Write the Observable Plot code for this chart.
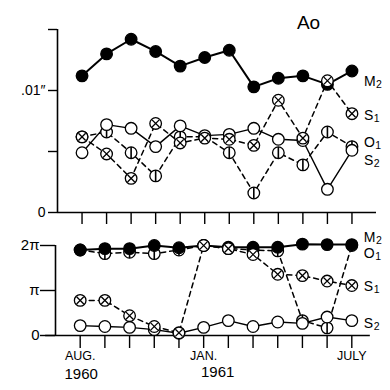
<!DOCTYPE html>
<html>
<head>
<meta charset="utf-8">
<script src="https://cdn.jsdelivr.net/npm/d3@7"></script>
<script src="https://cdn.jsdelivr.net/npm/@observablehq/plot@0.6"></script>
<style>
  html, body { margin: 0; padding: 0; background: white; }
  #chart { width: 390px; height: 390px; overflow: hidden; }
  #chart svg { display: block; overflow: visible; }
</style>
</head>
<body>
<div id="chart"></div>
<script>
// ---- data ----
const months = ["AUG.","SEP.","OCT.","NOV.","DEC.","JAN.","FEB.","MAR.","APR.","MAY","JUNE","JULY"];
const monthTickLabels = ["AUG.","","","","","JAN.","","","","","","JULY"];
const years = ["1960","1961"];
const yearMonths = ["AUG.","JAN."];
const series = ["M2","S1","O1","S2"];
const seriesLetters = ["M","S","O","S"];
const seriesSubs = ["2","1","1","2"];
const title = "Ao";

// amplitude (inches)
const ampM2 = [0.0112,0.0130,0.0142,0.0132,0.0120,0.0127,0.0133,0.0103,0.0110,0.0112,0.0105,0.0116];
const ampS1 = [0.0062,0.0048,0.0028,0.0073,0.0057,0.0061,0.0060,0.0055,0.0092,0.0061,0.0108,0.0081];
const ampO1 = [0.0062,0.0066,0.0049,0.0030,0.0062,0.0062,0.0049,0.0016,0.0049,0.0039,0.0066,0.0054];
const ampS2 = [0.0049,0.0072,0.0069,0.0054,0.0071,0.0063,0.0064,0.0069,0.0060,0.0059,0.0019,0.0051];
const ampTicks = [0,0.005,0.01,0.015];
const ampTickLabels = ["0","",".01″",""];

// phase (units of pi)
const phM2 = [1.90,1.93,1.93,2.00,1.95,2.00,1.96,1.96,1.96,2.03,2.02,2.02];
const phS1 = [0.78,0.78,0.44,0.20,0.06,2.00,1.93,1.80,1.36,1.33,1.21,1.11];
const phO1 = [1.90,1.82,1.85,1.82,1.90,2.00,1.93,1.90,1.88,0.33,0.17,2.00];
const phS2 = [0.22,0.20,0.18,0.13,0.05,0.18,0.33,0.20,0.30,0.27,0.41,0.33];
const phaseTicks = [0,1,2];
const phaseTickLabels = ["0","π","2π"];

// ---- build tables ----
const ampValues = {M2: ampM2, S1: ampS1, O1: ampO1, S2: ampS2};
const phValues = {M2: phM2, S1: phS1, O1: phO1, S2: phS2};
const rows = (vals) => series.flatMap(s => vals[s].map((v, i) => ({series: s, i, v})));
const ampRows = rows(ampValues);
const phRows = rows(phValues);
const monthIdx = months.map((m, i) => i);

// ---- styles ----
const font = "'Liberation Sans', Arial, sans-serif";
const labelSize = 14, subSize = 10.5;
const measureCtx = document.createElement("canvas").getContext("2d");
measureCtx.font = `${labelSize}px 'Liberation Sans', Arial, sans-serif`;
const letterWidth = (t) => measureCtx.measureText(t).width;

const lineStyle = {
  M2: {strokeWidth: 2, strokeDasharray: null},
  S1: {strokeWidth: 1.5, strokeDasharray: "5,4"},
  O1: {strokeWidth: 1.5, strokeDasharray: "5,4"},
  S2: {strokeWidth: 1.4, strokeDasharray: null}
};
const vbar = {draw(ctx, size) { const r = Math.sqrt(size / Math.PI); ctx.moveTo(0, -r); ctx.lineTo(0, r); }};
const cross = {draw(ctx, size) { const r = Math.sqrt(size / Math.PI) * 0.62; ctx.moveTo(-r, -r); ctx.lineTo(r, r); ctx.moveTo(r, -r); ctx.lineTo(-r, r); }};
const R = 5.8;

function seriesMarks(data) {
  const marks = [];
  for (const s of series) {
    marks.push(Plot.line(data.filter(d => d.series === s), {
      x: "i", y: "v", stroke: "black", ...lineStyle[s]
    }));
  }
  for (const s of ["O1","S2","M2","S1"]) {
    const d = data.filter(r => r.series === s);
    marks.push(Plot.dot(d, {x: "i", y: "v", r: R, fill: s === "M2" ? "black" : "white", stroke: "black", strokeWidth: 1.3}));
    if (s === "O1") marks.push(Plot.dot(d, {x: "i", y: "v", r: R, symbol: vbar, fill: "none", stroke: "black", strokeWidth: 1.6}));
    if (s === "S1") marks.push(Plot.dot(d, {x: "i", y: "v", r: R, symbol: cross, fill: "none", stroke: "black", strokeWidth: 1.3}));
  }
  return marks;
}

function endLabels(data, dys) {
  const marks = [];
  series.forEach((s, k) => {
    const d = data.filter(r => r.series === s);
    const last = d[d.length - 1];
    marks.push(Plot.text([last], {
      x: "i", y: "v", text: () => seriesLetters[k], dx: 12, dy: dys[s],
      textAnchor: "start", fontSize: labelSize, fontFamily: font, fill: "black"
    }));
    marks.push(Plot.text([last], {
      x: "i", y: "v", text: () => seriesSubs[k], dx: 12.5 + letterWidth(seriesLetters[k]), dy: dys[s] + 3,
      textAnchor: "start", fontSize: subSize, fontFamily: font, fill: "black"
    }));
  });
  return marks;
}

// ---- top panel: amplitude ----
const ampPlot = Plot.plot({
  width: 390, height: 224,
  marginTop: 29, marginBottom: 12, marginLeft: 57, marginRight: 14,
  x: {domain: [-1, 12], axis: null},
  y: {domain: [0, 0.015], axis: null},
  style: {fontFamily: font, background: "white", overflow: "visible"},
  marks: [
    Plot.ruleY([0], {x1: -1, x2: 12, stroke: "black", strokeWidth: 1.6}),
    Plot.ruleX([-1], {y1: 0, y2: 0.015, stroke: "black", strokeWidth: 1.6}),
    Plot.axisY({ticks: ampTicks, label: null, tickSize: 9, tickPadding: 3, tickFormat: (d, k) => ampTickLabels[k], fontSize: 14, stroke: "black", strokeWidth: 1.4}),
    Plot.axisX({ticks: monthIdx, label: null, tickSize: 12, tickFormat: () => "", stroke: "black", strokeWidth: 1.4}),
    ...seriesMarks(ampRows),
    ...endLabels(ampRows, {M2: 11, S1: 2, O1: -4, S2: 10}),
    Plot.text([title], {frameAnchor: "top-right", textAnchor: "middle", dx: -68, dy: -14, fontSize: 19, fontFamily: font})
  ]
});

// ---- bottom panel: phase ----
const phasePlot = Plot.plot({
  width: 390, height: 166,
  marginTop: 21, marginBottom: 55, marginLeft: 55, marginRight: 14,
  x: {domain: [-1, 12], axis: null},
  y: {domain: [0, 2], axis: null},
  style: {fontFamily: font, background: "white", overflow: "visible"},
  marks: [
    Plot.ruleY([0], {x1: -1.4, x2: 11.75, stroke: "black", strokeWidth: 1.6}),
    Plot.ruleX([-1], {y1: 0, y2: 2, stroke: "black", strokeWidth: 1.6}),
    Plot.axisY({ticks: phaseTicks, label: null, tickSize: 15, tickPadding: 1, tickFormat: (d, k) => phaseTickLabels[k], fontSize: 15, stroke: "black", strokeWidth: 1.4}),
    Plot.axisX({ticks: monthIdx, label: null, tickSize: 13, tickPadding: 3, tickFormat: (d) => monthTickLabels[d], fontSize: 12.5, stroke: "black", strokeWidth: 1.4}),
    ...seriesMarks(phRows),
    ...endLabels(phRows, {M2: -7, O1: 8, S1: 1, S2: 3}),
    ...years.map((y, k) => Plot.text([y], {
      x: () => months.indexOf(yearMonths[k]), frameAnchor: "bottom",
      dx: k === 0 ? 1 : 14, dy: k === 0 ? 43 : 41, fontSize: 15, fontFamily: font
    }))
  ]
});

const el = document.getElementById("chart");
el.appendChild(ampPlot);
el.appendChild(phasePlot);
</script>
</body>
</html>
